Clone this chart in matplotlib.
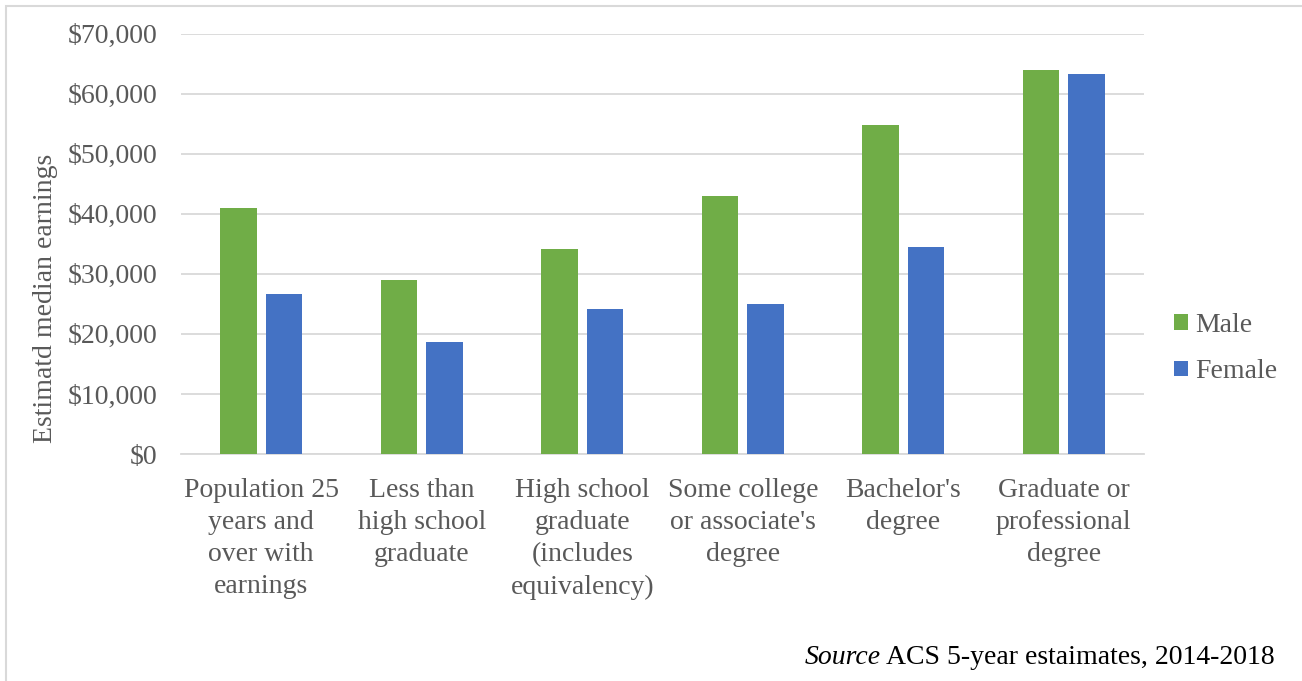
import matplotlib.pyplot as plt
import numpy as np
from matplotlib.patches import Rectangle
from matplotlib.ticker import FuncFormatter

categories = [
    "Population 25\nyears and\nover with\nearnings",
    "Less than\nhigh school\ngraduate",
    "High school\ngraduate\n(includes\nequivalency)",
    "Some college\nor associate's\ndegree",
    "Bachelor's\ndegree",
    "Graduate or\nprofessional\ndegree",
]
male = [41000, 28900, 34100, 42900, 54700, 64000]
female = [26600, 18600, 24100, 25000, 34500, 63200]

GREEN = "#70AD47"
BLUE = "#4472C4"
TEXT = "#595959"
GRID = "#d9d9d9"
FS = 20

plt.rcParams["font.family"] = ["Liberation Serif", "DejaVu Serif"]

fig = plt.figure(figsize=(13.02, 6.81), dpi=100)
W, H = 1302, 681
ax = fig.add_axes([181 / W, 1 - 454 / H, (1144 - 181) / W, (454 - 33.5) / H])

x = np.arange(len(categories))
width = 0.227
off = 0.143
ax.bar(x - off, male, width, color=GREEN, label="Male", zorder=3)
ax.bar(x + off, female, width, color=BLUE, label="Female", zorder=3)

ax.set_xlim(-0.5, len(categories) - 0.5)
ax.set_ylim(0, 70000)
ax.set_yticks(np.arange(0, 70001, 10000))
ax.yaxis.set_major_formatter(FuncFormatter(lambda v, p: "${:,.0f}".format(v)))
ax.grid(axis="y", color=GRID, linewidth=1.3, zorder=0)
ax.set_xticks(x)
ax.set_xticklabels(categories, linespacing=1.38)
ax.tick_params(axis="both", length=0, labelsize=FS, colors=TEXT)
ax.tick_params(axis="y", pad=17)
ax.tick_params(axis="x", pad=17)
for s in ["top", "right", "left"]:
    ax.spines[s].set_visible(False)
ax.spines["bottom"].set_color(GRID)
ax.spines["bottom"].set_linewidth(1.3)

ax.set_ylabel("Estimatd median earnings", fontsize=FS, color=TEXT)
ax.yaxis.set_label_coords(58 / W, 1 - 298 / H, transform=fig.transFigure)

ax.legend(loc="center left", bbox_to_anchor=(1174 / W, 1 - 348.5 / H),
          bbox_transform=fig.transFigure, frameon=False, fontsize=FS,
          labelcolor=TEXT, handlelength=0.5, handleheight=0.5,
          handletextpad=0.25, labelspacing=0.78, borderpad=0,
          borderaxespad=0)

# light frame around the chart area
fig.patches.append(Rectangle((5.5 / W, -0.1), 1.2, 1 - 6.5 / H + 0.1,
                             transform=fig.transFigure, fill=False,
                             edgecolor=GRID, linewidth=1.5))

src = fig.text(1275 / W, 1 - 658 / H, "ACS 5-year estaimates, 2014-2018",
               ha="right", va="center", fontsize=FS, color="black")
fig.canvas.draw()
bb = src.get_window_extent()
fig.text(bb.x0 - 6, bb.y0 + bb.height / 2, "Source", ha="right", va="center",
         fontsize=FS, style="italic", color="black", transform=None)

fig.savefig("out.png", dpi=100)
